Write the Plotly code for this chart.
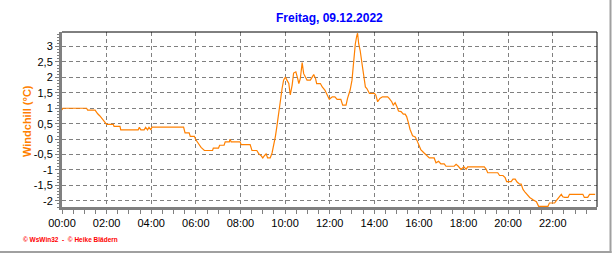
import plotly.graph_objects as go

day = "2022-12-09"
times = ["00:00","00:02","01:06","01:09","01:29","01:31","01:36","01:42","01:47","01:51",
         "02:00","02:18","02:20","02:36","02:38","03:25","03:28","03:32","03:41","03:45",
         "03:50","03:54","03:59","04:02","05:27","05:31","05:42","05:45","05:56","06:00",
         "06:07","06:14","06:23","06:45","06:47","07:01","07:04","07:16","07:19","07:30",
         "07:32","07:35","07:59","08:02","08:26","08:31","08:44","08:49","08:55","09:00",
         "09:05","09:09","09:13","09:20","09:25","09:29","09:34","09:38","09:43","09:47",
         "09:52","09:56","10:01","10:05","10:10","10:14","10:19","10:23","10:29","10:34",
         "10:37","10:41","10:46","10:50","10:55","10:59","11:08","11:13","11:17","11:22",
         "11:25","11:35","11:40","11:47","11:53","11:59","12:07","12:14","12:20","12:30",
         "12:35","12:44","12:48","12:55","13:00","13:04","13:09","13:13","13:15","13:18",
         "13:22","13:27","13:31","13:36","13:40","13:47","14:00","14:04","14:09","14:15",
         "14:22","14:36","14:40","14:47","14:51","14:56","15:01","15:05","15:12","15:18",
         "15:23","15:27","15:32","15:36","15:43","15:50","15:55","15:59","16:05","16:14",
         "16:22","16:28","16:41","16:46","16:53","16:59","17:08","17:13","17:35","17:40",
         "17:46","17:53","18:01","18:07","18:11","18:56","19:01","19:05","19:32","19:37",
         "19:46","19:52","19:56","20:08","20:13","20:19","20:24","20:31","20:35","20:40",
         "20:46","20:53","20:58","21:08","21:16","21:22","21:47","21:51","22:05","22:09",
         "22:18","22:23","22:27","22:32","22:41","22:45","23:21","23:25","23:34","23:39",
         "23:54"]
windchill = [0.94,1.00,1.00,0.94,0.94,0.89,0.82,0.75,0.68,0.62,
             0.48,0.48,0.41,0.41,0.30,0.30,0.38,0.30,0.30,0.38,
             0.30,0.38,0.30,0.39,0.39,0.20,0.20,0.09,0.09,-0.02,
             -0.13,-0.27,-0.37,-0.37,-0.29,-0.29,-0.20,-0.20,-0.09,-0.09,
             0.00,-0.09,-0.09,-0.18,-0.18,-0.37,-0.37,-0.47,-0.53,-0.61,
             -0.53,-0.48,-0.61,-0.61,-0.45,-0.23,0.09,0.41,0.89,1.27,
             1.64,1.91,2.01,1.91,1.80,1.43,1.75,2.14,2.18,1.96,
             1.80,1.96,2.48,2.12,2.01,1.91,1.91,2.01,2.09,1.96,
             1.80,1.80,1.69,1.59,1.43,1.29,1.37,1.37,1.29,1.29,
             1.10,1.10,1.32,1.59,1.91,2.44,3.09,3.35,3.43,3.09,
             2.87,2.44,2.12,1.69,1.64,1.48,1.48,1.43,1.21,1.32,
             1.37,1.37,1.32,1.21,1.10,1.18,1.05,0.91,0.89,0.81,
             0.81,0.73,0.52,0.32,0.11,0.07,-0.05,-0.18,-0.34,-0.45,
             -0.55,-0.61,-0.61,-0.77,-0.72,-0.80,-0.80,-0.88,-0.88,-0.82,
             -0.88,-0.98,-0.90,-0.98,-0.90,-0.90,-0.98,-1.09,-1.09,-1.18,
             -1.18,-1.25,-1.38,-1.38,-1.30,-1.30,-1.39,-1.46,-1.46,-1.63,
             -1.73,-1.84,-1.89,-1.97,-2.03,-2.18,-2.18,-2.07,-2.07,-2.00,
             -1.84,-1.79,-1.87,-1.89,-1.89,-1.79,-1.79,-1.89,-1.89,-1.79,
             -1.79]

x_tick_labels = ["00:00","02:00","04:00","06:00","08:00","10:00",
                 "12:00","14:00","16:00","18:00","20:00","22:00"]
y_tick_values = [-2, -1.5, -1, -0.5, 0, 0.5, 1, 1.5, 2, 2.5, 3]
y_tick_labels = ["-2","-1,5","-1","-0,5","0","0,5","1","1,5","2","2,5","3"]

title_text = "Freitag, 09.12.2022"
y_title = "Windchill (°C)"
footer = "© WsWin32  -  © Heike Blädern"

x_vals = [f"{day} {t}" for t in times]
x_ticks = [f"{day} {t}" for t in x_tick_labels]

W, H = 616, 253
L, R, T, B = 62, 19, 32, 46
pw, ph = W - L - R, H - T - B

def px(x):
    return (x - L) / pw

def py(y):
    return (T + ph - y) / ph

GRAY = "#808080"
ORANGE = "#FF8000"

fig = go.Figure()
fig.add_trace(go.Scatter(x=x_vals, y=windchill, mode="lines",
                         line=dict(color=ORANGE, width=1.2), showlegend=False))

fig.update_layout(
    width=W, height=H,
    margin=dict(l=L, r=R, t=T, b=B, pad=0),
    paper_bgcolor="white", plot_bgcolor="white",
    font=dict(family="Liberation Sans, Arial, sans-serif", size=11, color="black"),
    showlegend=False,
    xaxis=dict(
        type="date",
        range=[f"{day} 00:00", f"{day} 23:59"],
        tickmode="array", tickvals=x_ticks, ticktext=x_tick_labels,
        showline=True, linecolor=GRAY, linewidth=3,
        ticks="outside", ticklen=4, tickcolor=GRAY, tickwidth=1,
        showgrid=True, gridcolor=GRAY, gridwidth=1, griddash="4px,3px",
        zeroline=False,
        minor=dict(tickmode="linear", tick0=f"{day} 00:00", dtick=1800000,
                   ticks="outside", ticklen=4, tickcolor=GRAY, showgrid=False),
        tickfont=dict(size=11),
    ),
    yaxis=dict(
        range=[-2.2, 3.47],
        tickmode="array", tickvals=y_tick_values, ticktext=y_tick_labels,
        showline=True, linecolor=GRAY, linewidth=3,
        ticks="outside", ticklen=4, tickcolor=GRAY, tickwidth=1,
        showgrid=True, gridcolor=GRAY, gridwidth=1, griddash="4px,3px",
        zeroline=False,
        minor=dict(tickmode="linear", tick0=0, dtick=0.1,
                   ticks="outside", ticklen=2, tickcolor=GRAY, showgrid=False),
        tickfont=dict(size=11),
    ),
)

shapes = [
    dict(type="line", xref="paper", yref="paper", x0=0, x1=1, y0=1, y1=1,
         line=dict(color="black", width=1)),
    dict(type="line", xref="paper", yref="paper", x0=1, x1=1, y0=0, y1=1,
         line=dict(color="black", width=1)),
    dict(type="line", xref="paper", yref="paper", x0=px(610.5), x1=px(610.5),
         y0=py(H + 2), y1=py(-2), line=dict(color="#A0A0A0", width=2)),
    dict(type="line", xref="paper", yref="paper", x0=px(-2), x1=px(611.5),
         y0=py(252), y1=py(252), line=dict(color="#A0A0A0", width=2)),
]
fig.update_layout(shapes=shapes)

fig.add_annotation(text=f"<b>{title_text}</b>", xref="paper", yref="paper",
                   x=0.5, y=py(18.5), xanchor="center", yanchor="middle",
                   showarrow=False, font=dict(size=12, color="#0000FF"))
fig.add_annotation(text=f"<b>{y_title}</b>", xref="paper", yref="paper",
                   x=px(27), y=py(121), xanchor="center", yanchor="middle",
                   textangle=-90, showarrow=False,
                   font=dict(size=11, color=ORANGE))
fig.add_annotation(text=f"<b>{footer}</b>", xref="paper", yref="paper",
                   x=px(21), y=py(239.5), xanchor="left", yanchor="middle",
                   showarrow=False, font=dict(size=6.5, color="#FF0000"))

fig.write_html("out.html")
